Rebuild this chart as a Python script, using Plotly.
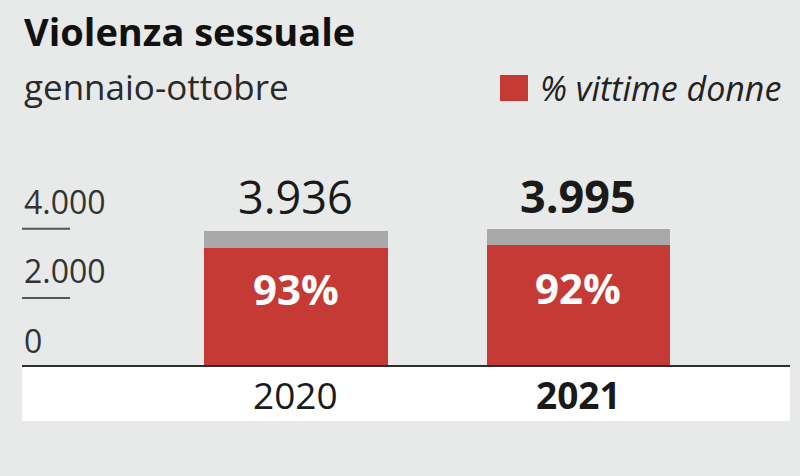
import plotly.graph_objects as go

years = ["2020", "2021"]
totals = [3936, 3995]
women_drawn = [3450, 3530]
other_drawn = [486, 465]
pct_labels = ["93%", "92%"]
total_labels = ["3.936", "<b>3.995</b>"]
year_labels = ["2020", "<b>2021</b>"]
ytick_vals = [0, 2000, 4000]
ytick_text = ["0", "2.000", "4.000"]

BG = "#e8eaea"
RED = "#c63a35"
GRAY = "#a8a9a8"
PX_PER_UNIT = 152 / 4400

fig = go.Figure()
fig.add_trace(go.Bar(x=years, y=women_drawn, marker=dict(color=RED, line=dict(width=0)),
                     width=0.651, hoverinfo="skip"))
fig.add_trace(go.Bar(x=years, y=other_drawn, marker=dict(color=GRAY, line=dict(width=0)),
                     width=0.651, hoverinfo="skip"))

ann = []
for i, y in enumerate(years):
    ann.append(dict(x=i, y=totals[i], xref="x", yref="y", text=total_labels[i], showarrow=False,
                    yanchor="middle", yshift=(367 - 196) - totals[i] * PX_PER_UNIT,
                    font=dict(family="Open Sans", size=45, color="#1a1a1a")))
    ann.append(dict(x=i, y=women_drawn[i], xref="x", yref="y", text="<b>" + pct_labels[i] + "</b>",
                    showarrow=False, yanchor="middle",
                    yshift=(367 - 288) - women_drawn[i] * PX_PER_UNIT,
                    font=dict(family="Open Sans", size=42, color="white")))
    ann.append(dict(x=i, y=0, xref="x", yref="y", text=year_labels[i], showarrow=False,
                    yanchor="middle", yshift=-27, font=dict(family="Open Sans", size=37, color="#1a1a1a")))
for v, t in zip(ytick_vals, ytick_text):
    ann.append(dict(x=0, y=v, xref="paper", yref="y", text=t, showarrow=False, xanchor="left",
                    yanchor="middle", yshift=27, font=dict(family="Open Sans", size=32, color="#333333")))

shapes = [
    dict(type="rect", xref="paper", yref="paper", x0=0, x1=1, y0=-(421 - 367) / 152, y1=0,
         fillcolor="white", line=dict(width=0), layer="below"),
    dict(type="line", xref="paper", yref="y", x0=0, x1=1, y0=0, y1=0, line=dict(color="#2e2e2e", width=4)),
]
for v in [2000, 4000]:
    shapes.append(dict(type="line", xref="paper", yref="y", x0=0, x1=48 / 768, y0=v, y1=v,
                       line=dict(color="#555555", width=2)))
# legend swatch
shapes.append(dict(type="rect", xref="paper", yref="paper", x0=(500 - 22) / 768, x1=(528 - 22) / 768,
                   y0=(367 - 101) / 152, y1=(367 - 75) / 152, fillcolor=RED, line=dict(width=0)))

ann += [
    dict(xref="paper", yref="paper", x=0, y=(367 - 31) / 152, xanchor="left", yanchor="middle",
         text="<b>Violenza sessuale</b>", showarrow=False,
         font=dict(family="Open Sans", size=38, color="#111111")),
    dict(xref="paper", yref="paper", x=0, y=(367 - 86) / 152, xanchor="left", yanchor="middle",
         text="gennaio-ottobre", showarrow=False,
         font=dict(family="Open Sans", size=35, color="#2a2a2a")),
    dict(xref="paper", yref="paper", x=(538 - 22) / 768, y=(367 - 88) / 152, xanchor="left", yanchor="middle",
         text="<i>% vittime donne</i>", showarrow=False,
         font=dict(family="Open Sans", size=34, color="#222222")),
]

fig.update_layout(
    width=800, height=476, barmode="stack", showlegend=False,
    paper_bgcolor=BG, plot_bgcolor=BG,
    margin=dict(l=22, r=10, t=215, b=109),
    bargap=0,
    xaxis=dict(range=[-0.970, 1.749], showticklabels=False, showgrid=False, zeroline=False, fixedrange=True),
    yaxis=dict(range=[0, 4400], showticklabels=False, showgrid=False, zeroline=False),
    shapes=shapes,
    annotations=ann,
)
fig.write_html("out.html")
